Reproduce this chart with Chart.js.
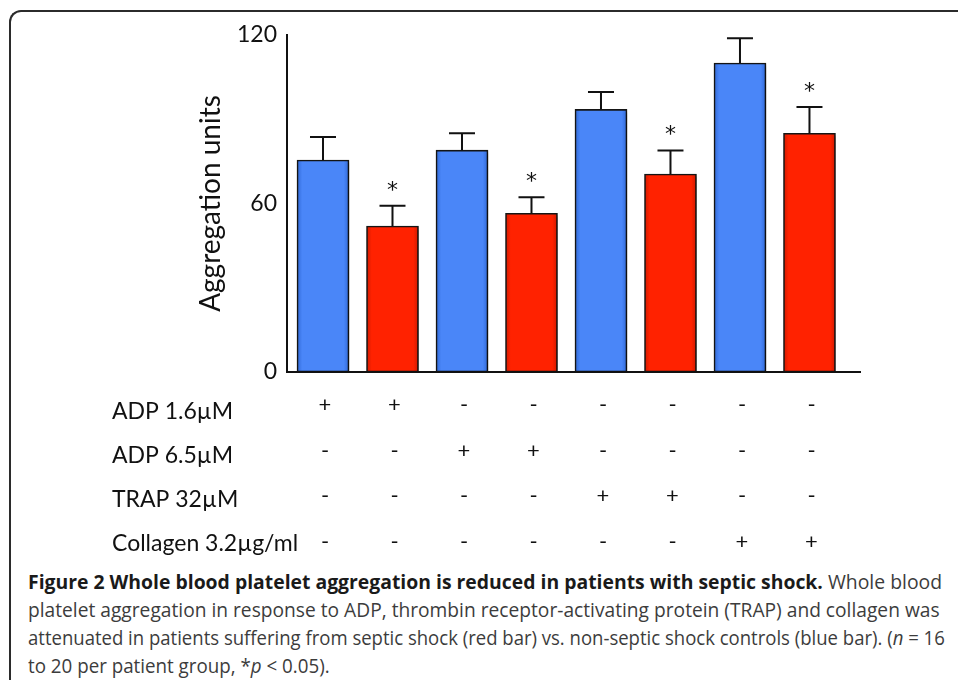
<!DOCTYPE html>
<html>
<head>
<meta charset="utf-8">
<script src="https://cdn.jsdelivr.net/npm/chart.js@4.4.1/dist/chart.umd.min.js"></script>
<style>
  html, body { margin: 0; padding: 0; background: #fff; width: 958px; height: 680px; overflow: hidden; position: relative; }
  #frame { position: absolute; left: 9px; top: 10px; width: 1100px; height: 900px; box-sizing: border-box;
           border-top: 2px solid #2b2b2b; border-left: 2px solid #2b2b2b; border-top-left-radius: 12px; }
  #wrap { position: absolute; left: 0; top: 0; width: 958px; height: 565px; }
  #caption { position: absolute; left: 28px; top: 568px; font-family: 'Open Sans', sans-serif; font-size: 19.5px;
             line-height: 28px; color: #3c3c3c; }
  #caption .ln { white-space: nowrap; width: max-content; transform-origin: 0 50%; }
  #caption b { color: #1a1a1a; }
</style>
</head>
<body>
<div id="frame"></div>
<div id="wrap"><canvas id="chart" width="958" height="565"></canvas></div>
<div id="caption">
  <div class="ln" data-w="914"><b>Figure 2 Whole blood platelet aggregation is reduced in patients with septic shock.</b> Whole blood</div>
  <div class="ln" data-w="912">platelet aggregation in response to ADP, thrombin receptor-activating protein (TRAP) and collagen was</div>
  <div class="ln" data-w="917">attenuated in patients suffering from septic shock (red bar) vs. non-septic shock controls (blue bar). (<i>n</i> = 16</div>
  <div class="ln" data-w="302">to 20 per patient group, *<i>p</i> &lt; 0.05).</div>
</div>
<script>
'use strict';

// ── DATA ──
const groups      = ['control', 'septic', 'control', 'septic', 'control', 'septic', 'control', 'septic'];
const means       = [75.5, 52, 79, 56.5, 93.5, 70.5, 110, 85];
const errors      = [8.2, 7.2, 6, 5.7, 6.2, 8.4, 8.8, 9.4];
const significant = [false, true, false, true, false, true, false, true];
const yTicks      = [0, 60, 120];

const conditions  = ['ADP 1.6µM', 'ADP 6.5µM', 'TRAP 32µM', 'Collagen 3.2µg/ml'];
const adp16Signs  = ['+', '+', '-', '-', '-', '-', '-', '-'];
const adp65Signs  = ['-', '-', '+', '+', '-', '-', '-', '-'];
const trapSigns   = ['-', '-', '-', '-', '+', '+', '-', '-'];
const collSigns   = ['-', '-', '-', '-', '-', '-', '+', '+'];
const rowSigns    = [adp16Signs, adp65Signs, trapSigns, collSigns];

// ── STYLE ──
const groupColors = { control: ['#4a86f8', '#2f68d6'], septic: ['#ff2200', '#cf1a00'] };
const INK = '#111';
const BAR_W = 52;
const positions = means.map((_, i) => i + 1);

// bevel-ish fill: darker side strips
function barFill(ctx) {
  const [main, edge] = groupColors[groups[ctx.dataIndex]];
  const x = ctx.chart.scales.x;
  if (!x || !isFinite(x.getPixelForValue(1))) return main;
  const cx = x.getPixelForValue(positions[ctx.dataIndex]);
  const g = ctx.chart.ctx.createLinearGradient(cx - BAR_W / 2, 0, cx + BAR_W / 2, 0);
  g.addColorStop(0, edge);
  g.addColorStop(0.1, main);
  g.addColorStop(0.9, main);
  g.addColorStop(1, edge);
  return g;
}

// ── PLUGINS ──
const barShadow = {
  id: 'barShadow',
  beforeDatasetsDraw(chart) {
    const ctx = chart.ctx;
    ctx.save();
    ctx.shadowColor = 'rgba(0,0,0,0.35)';
    ctx.shadowBlur = 4;
    ctx.shadowOffsetX = 2;
    ctx.shadowOffsetY = 2;
  },
  afterDatasetsDraw(chart) { chart.ctx.restore(); }
};

const errorBars = {
  id: 'errorBars',
  afterDatasetsDraw(chart) {
    const { ctx, scales: { y } } = chart;
    const meta = chart.getDatasetMeta(0);
    ctx.save();
    ctx.strokeStyle = INK;
    ctx.fillStyle = INK;
    ctx.lineWidth = 2;
    ctx.font = '22px "DejaVu Sans"';
    ctx.textAlign = 'center';
    ctx.textBaseline = 'alphabetic';
    meta.data.forEach((bar, i) => {
      const top = y.getPixelForValue(means[i] + errors[i]);
      ctx.beginPath();
      ctx.moveTo(bar.x, bar.y);
      ctx.lineTo(bar.x, top);
      ctx.moveTo(bar.x - 13, top);
      ctx.lineTo(bar.x + 13, top);
      ctx.stroke();
      if (significant[i]) ctx.fillText('*', bar.x, top - 9);
    });
    ctx.restore();
  }
};

const stimTable = {
  id: 'stimTable',
  afterDraw(chart) {
    const { ctx, scales: { x } } = chart;
    const labelBase = [419, 463, 507, 551];
    const signMid   = [405, 451, 496, 542];
    ctx.save();
    ctx.fillStyle = INK;
    ctx.font = '23px Lato';
    ctx.textAlign = 'left';
    ctx.textBaseline = 'alphabetic';
    conditions.forEach((c, r) => ctx.fillText(c, 112, labelBase[r]));
    ctx.font = '22px Lato';
    ctx.textAlign = 'center';
    ctx.textBaseline = 'middle';
    rowSigns.forEach((row, r) => {
      row.forEach((s, i) => ctx.fillText(s, x.getPixelForValue(positions[i]) + 2, signMid[r]));
    });
    ctx.restore();
  }
};

// ── CHART ──
new Chart(document.getElementById('chart'), {
  type: 'bar',
  data: {
    datasets: [{
      data: positions.map((p, i) => ({ x: p, y: means[i] })),
      backgroundColor: barFill,
      borderColor: '#151515',
      borderWidth: 1.6,
      borderSkipped: false,
      barThickness: BAR_W
    }]
  },
  options: {
    responsive: false,
    animation: false,
    devicePixelRatio: 1,
    layout: { padding: { left: 0, top: 35, right: 98, bottom: 193 } },
    plugins: { legend: { display: false }, tooltip: { enabled: false } },
    scales: {
      x: {
        type: 'linear', min: 0.482, max: 8.727, offset: false,
        ticks: { display: false },
        grid: { display: false, drawTicks: false },
        border: { color: INK, width: 2 },
        afterFit: s => { s.height = 0; }
      },
      y: {
        min: 0, max: 120,
        afterBuildTicks: s => { s.ticks = yTicks.map(v => ({ value: v })); },
        ticks: { color: INK, font: { family: 'Lato', size: 23 }, padding: 10 },
        grid: { display: false, drawTicks: false },
        border: { color: INK, width: 2 },
        title: { display: true, text: 'Aggregation units', color: INK,
                 font: { family: 'Lato', size: 28 }, padding: { top: 194, bottom: 0 } },
        afterFit: s => { s.width = 287; }
      }
    }
  },
  plugins: [barShadow, errorBars, stimTable]
});

// ── CAPTION FIT ──
function fitCaption() {
  document.querySelectorAll('#caption .ln').forEach(el => {
    const w = el.offsetWidth;
    el.style.transform = `scaleX(${(+el.dataset.w / w).toFixed(4)})`;
  });
}
fitCaption();
if (document.fonts && document.fonts.ready) document.fonts.ready.then(fitCaption);
</script>
</body>
</html>
